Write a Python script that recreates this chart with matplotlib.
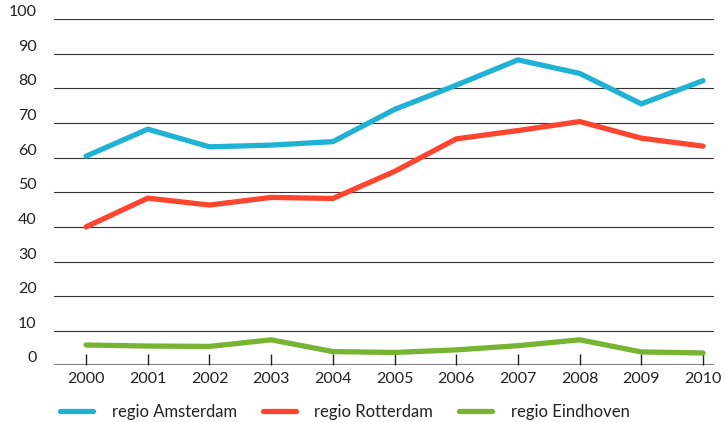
import matplotlib.pyplot as plt

plt.rcParams['font.family'] = ['Lato', 'DejaVu Sans']

# jaren en waarden per regio
jaren = [2000, 2001, 2002, 2003, 2004, 2005, 2006, 2007, 2008, 2009, 2010]
amsterdam = [60.4, 68.2, 63.1, 63.6, 64.6, 73.9, 80.9, 88.2, 84.3, 75.5, 82.2]
rotterdam = [40.0, 48.3, 46.3, 48.5, 48.2, 56.0, 65.4, 67.8, 70.4, 65.6, 63.3]
eindhoven = [5.9, 5.6, 5.5, 7.4, 4.0, 3.75, 4.5, 5.7, 7.4, 3.9, 3.6]
y_ticks = [0, 10, 20, 30, 40, 50, 60, 70, 80, 90, 100]

fig = plt.figure(figsize=(7.25, 4.22), dpi=100)
ax = fig.add_axes([0.0745, 0.134, 0.9105, 0.821])

# horizontale hulplijnen
for y in y_ticks[1:]:
    ax.axhline(y, color='#333333', lw=0.8, zorder=1)
ax.axhline(0, color='#888888', lw=1.6, zorder=1)

ax.plot(jaren, amsterdam, color='#20b2d4', lw=3.8, solid_capstyle='round',
        solid_joinstyle='miter', label='regio Amsterdam', zorder=3)
ax.plot(jaren, rotterdam, color='#ff4530', lw=3.8, solid_capstyle='round',
        solid_joinstyle='miter', label='regio Rotterdam', zorder=3)
ax.plot(jaren, eindhoven, color='#76b432', lw=3.8, solid_capstyle='round',
        solid_joinstyle='miter', label='regio Eindhoven', zorder=3)

ax.set_xlim(1999.48, 2010.18)
ax.set_ylim(0, 100)
for s in ax.spines.values():
    s.set_visible(False)

ax.set_xticks(jaren)
ax.set_xticklabels([str(j) for j in jaren])
ax.tick_params(axis='x', direction='in', length=8, width=1, color='#222222',
               labelsize=11.5, pad=5, labelcolor='#222222')
ax.set_yticks(y_ticks)
ax.set_yticklabels([str(v) for v in y_ticks])
ax.tick_params(axis='y', length=0, labelsize=11.5, pad=12.5, labelcolor='#222222')
for lbl in ax.get_yticklabels():
    lbl.set_verticalalignment('bottom')

fig.legend(loc='lower left', bbox_to_anchor=(0.062, -0.03), ncol=3, frameon=False,
           fontsize=12, handlelength=2.0, handletextpad=1.1, columnspacing=1.55,
           labelcolor='#222222')

fig.savefig('out.png', dpi=100)
